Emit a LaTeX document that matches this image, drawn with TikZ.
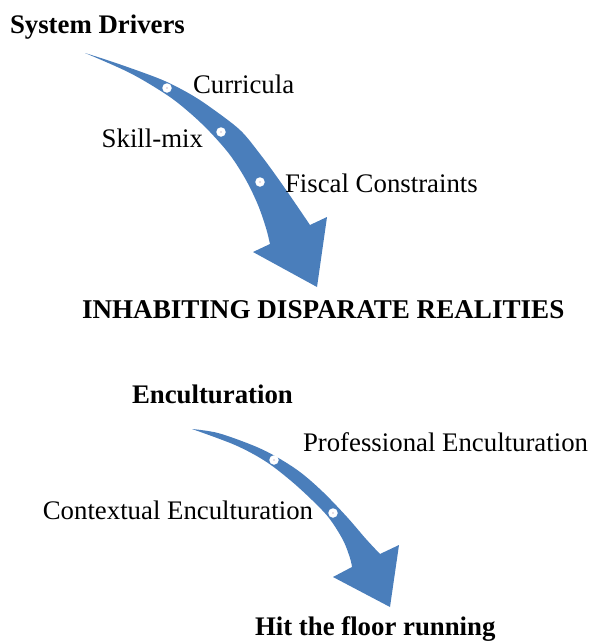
\documentclass[tikz,border=0pt]{standalone}
\usepackage{fontspec}
\setmainfont{Liberation Serif}
\definecolor{flowblue}{RGB}{74,126,187}
\definecolor{dotcore}{RGB}{205,190,205}
\begin{document}
\begin{tikzpicture}[x=1pt,y=-1pt,
  every node/.style={inner sep=0pt,outer sep=0pt,font=\fontsize{26.8}{30}\selectfont},
  head/.style={font=\fontsize{26.8}{30}\selectfont\bfseries},
  flow/.style={fill=flowblue,draw=none},
  stage/.style={circle,fill=white,minimum size=9.5pt},
  core/.style={circle,fill=dotcore,minimum size=1.8pt}]
\useasboundingbox (0,0) rectangle (589,641);

% ---- upper flow: system drivers ----
\node[head,anchor=base west] (drivers) at (10,33) {System Drivers};
\fill[flow] plot[smooth,tension=0.55] coordinates {(85,53) (113,62) (147,74) (167,82) (190,94) (210,107) (240,130) (260,154) (277,177) (293,200) (310,225)}
  -- (327,217) -- (317,287) -- (253,252) -- (270,244)
  -- plot[smooth,tension=0.55] coordinates {(270,244) (266,228) (258,205) (246,180) (230,155) (210,132) (190,113) (167,95) (130,73) (85,53)} -- cycle;
\node[stage] (d1) at (167,88) {};
\node[stage] (d2) at (221,132) {};
\node[stage] (d3) at (260,182) {};
\node[core] at (d1) {};
\node[core] at (d2) {};
\node[core] at (d3) {};
\node[anchor=base west] (curr) at (193,93) {Curricula};
\node[anchor=base east] (skill) at (203,147) {Skill-mix};
\node[anchor=base west] (fiscal) at (285,192) {Fiscal Constraints};
\node[head,font=\fontsize{27.1}{30}\selectfont\bfseries,anchor=base west] (realities) at (82,318) {INHABITING DISPARATE REALITIES};

% ---- lower flow: enculturation ----
\node[head,anchor=base west] (encult) at (132,403) {Enculturation};
\fill[flow] plot[smooth,tension=0.55] coordinates {(192,429) (218,433) (252,445) (275,456) (300,472) (323,492) (347,517) (366,539) (380,554)}
  -- (399,545) -- (390,607) -- (333,577) -- (352,567)
  -- plot[smooth,tension=0.55] coordinates {(352,567) (350,558) (343,540) (329,518) (312,500) (290,480) (265,461) (235,445) (192,429)} -- cycle;
\node[stage] (e1) at (274,460) {};
\node[stage] (e2) at (333,513) {};
\node[core] at (e1) {};
\node[core] at (e2) {};
\node[anchor=base west] (prof) at (303,451) {Professional Enculturation};
\node[anchor=base east] (ctx) at (313,519) {Contextual Enculturation};
\node[head,anchor=base west] (floor) at (255,635) {Hit the floor running};
\end{tikzpicture}
\end{document}
